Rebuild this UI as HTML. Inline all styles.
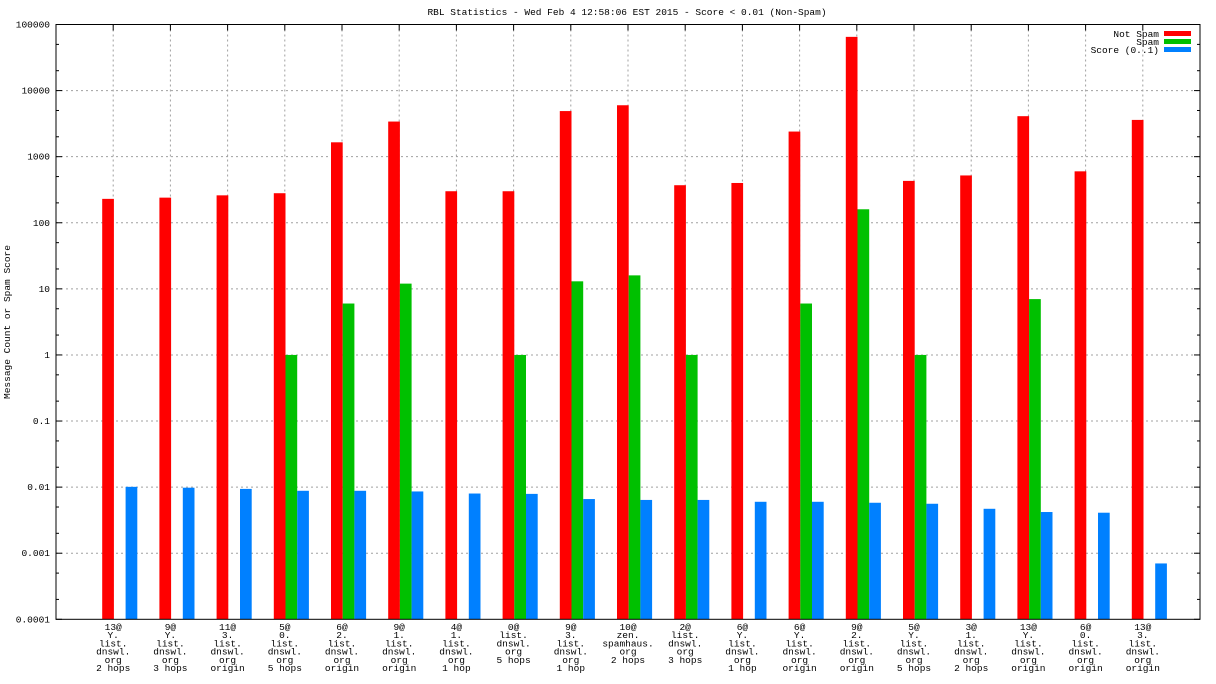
<!DOCTYPE html>
<html><head><meta charset="utf-8"><style>
html,body{margin:0;padding:0;background:#fff;}
svg{display:block;font-family:"Liberation Mono",monospace;font-size:9.5px;}
</style></head><body>
<svg id="chart" width="1216" height="684" xmlns="http://www.w3.org/2000/svg">
<text x="627" y="15" text-anchor="middle">RBL Statistics - Wed Feb  4 12:58:06 EST 2015 - Score &lt; 0.01 (Non-Spam)</text>
<text transform="translate(10,322) rotate(-90)" text-anchor="middle">Message Count or Spam Score</text>
<g id="grid"></g>
<g id="bars"></g>
<g id="axes"></g>
<g>
<text x="1159" y="37" text-anchor="end">Not Spam</text>
<rect x="1164" y="31" width="27" height="5" fill="#ff0000"/>
<text x="1159" y="45" text-anchor="end">Spam</text>
<rect x="1164" y="39" width="27" height="5" fill="#00c000"/>
<text x="1159" y="53" text-anchor="end">Score (0..1)</text>
<rect x="1164" y="47" width="27" height="5" fill="#0080ff"/>
</g>
</svg>
<script>
const categories = [
 ["13@","Y.","list.","dnswl.","org","2 hops"],
 ["9@","Y.","list.","dnswl.","org","3 hops"],
 ["11@","3.","list.","dnswl.","org","origin"],
 ["5@","0.","list.","dnswl.","org","5 hops"],
 ["6@","2.","list.","dnswl.","org","origin"],
 ["9@","1.","list.","dnswl.","org","origin"],
 ["4@","1.","list.","dnswl.","org","1 hop"],
 ["0@","list.","dnswl.","org","5 hops"],
 ["9@","3.","list.","dnswl.","org","1 hop"],
 ["10@","zen.","spamhaus.","org","2 hops"],
 ["2@","list.","dnswl.","org","3 hops"],
 ["6@","Y.","list.","dnswl.","org","1 hop"],
 ["6@","Y.","list.","dnswl.","org","origin"],
 ["9@","2.","list.","dnswl.","org","origin"],
 ["5@","Y.","list.","dnswl.","org","5 hops"],
 ["3@","1.","list.","dnswl.","org","2 hops"],
 ["13@","Y.","list.","dnswl.","org","origin"],
 ["6@","0.","list.","dnswl.","org","origin"],
 ["13@","3.","list.","dnswl.","org","origin"]
];
const notSpam = [230,240,260,280,1650,3400,300,300,4900,6000,370,400,2400,65000,430,520,4100,600,3600];
const spam = [null,null,null,1,6,12,null,1,13,16,1,null,6,160,1,null,7,null,null];
const score = [0.0101,0.0098,0.0094,0.0088,0.0088,0.0086,0.0080,0.0079,0.0066,0.0064,0.0064,0.0060,0.0060,0.0058,0.0056,0.0047,0.0042,0.0041,0.0007];
const yTicks = [0.0001,0.001,0.01,0.1,1,10,100,1000,10000,100000];
const yTickLabels = ["0.0001","0.001","0.01","0.1","1","10","100","1000","10000","100000"];

const NS="http://www.w3.org/2000/svg";
const L=56,R=1200,T=24.5,B=619.3;
const yMin=Math.log10(0.0001), yMax=Math.log10(100000);
function y(v){return B-(Math.log10(v)-yMin)/(yMax-yMin)*(B-T);}
const step=(R-L)/(categories.length+1);
function xc(i){return L+step*(i+1);}
function mk(tag,attrs,parent){const e=document.createElementNS(NS,tag);for(const k in attrs)e.setAttribute(k,attrs[k]);parent.appendChild(e);return e;}
const grid=document.getElementById('grid'),bars=document.getElementById('bars'),axes=document.getElementById('axes');

yTicks.forEach((t,i)=>{
 const yy=y(t);
 if(i>0&&i<yTicks.length-1){const g=mk('line',{x1:L,x2:R,y1:yy,y2:yy,stroke:'#a0a0a0','stroke-dasharray':'2,3','stroke-width':1},grid);
 
 }
 const tx=mk('text',{x:L-6,y:yy+3,'text-anchor':'end'},axes);tx.textContent=yTickLabels[i];
 
 
 mk('line',{x1:L,x2:L+6,y1:yy,y2:yy,stroke:'#000'},axes);
 mk('line',{x1:R,x2:R-6,y1:yy,y2:yy,stroke:'#000'},axes);
 if(i<yTicks.length-1){[2,5].forEach(m=>{const my=y(t*m);
  mk('line',{x1:L,x2:L+3,y1:my,y2:my,stroke:'#000'},axes);
  mk('line',{x1:R,x2:R-3,y1:my,y2:my,stroke:'#000'},axes);});}
});
categories.forEach((c,i)=>{
 const cx=xc(i);
 const g=mk('line',{x1:cx,x2:cx,y1:T,y2:B,stroke:'#a0a0a0','stroke-dasharray':'2,3'},grid);
 
 
 mk('line',{x1:cx,x2:cx,y1:T,y2:T+6,stroke:'#000'},axes);
 const w=11.7;
 const r=mk('rect',{x:cx-11,y:y(notSpam[i]),width:w,height:B-y(notSpam[i]),fill:'#ff0000'},bars);
 
 
 if(spam[i]!=null){const s=mk('rect',{x:cx+0.7,y:y(spam[i]),width:w,height:B-y(spam[i]),fill:'#00c000'},bars);
  
  }
 const b=mk('rect',{x:cx+12.4,y:y(score[i]),width:w,height:B-y(score[i]),fill:'#0080ff'},bars);
 
 
 const t=mk('text',{x:cx,'text-anchor':'middle'},axes);
 
 
 c.forEach((ln,k)=>{const sp=mk('tspan',{x:cx,y:630+k*8.2},t);sp.textContent=ln;});
});
mk('rect',{x:L,y:T,width:R-L,height:B-T,fill:'none',stroke:'#000','stroke-width':1},axes);
</script>
</body></html>
